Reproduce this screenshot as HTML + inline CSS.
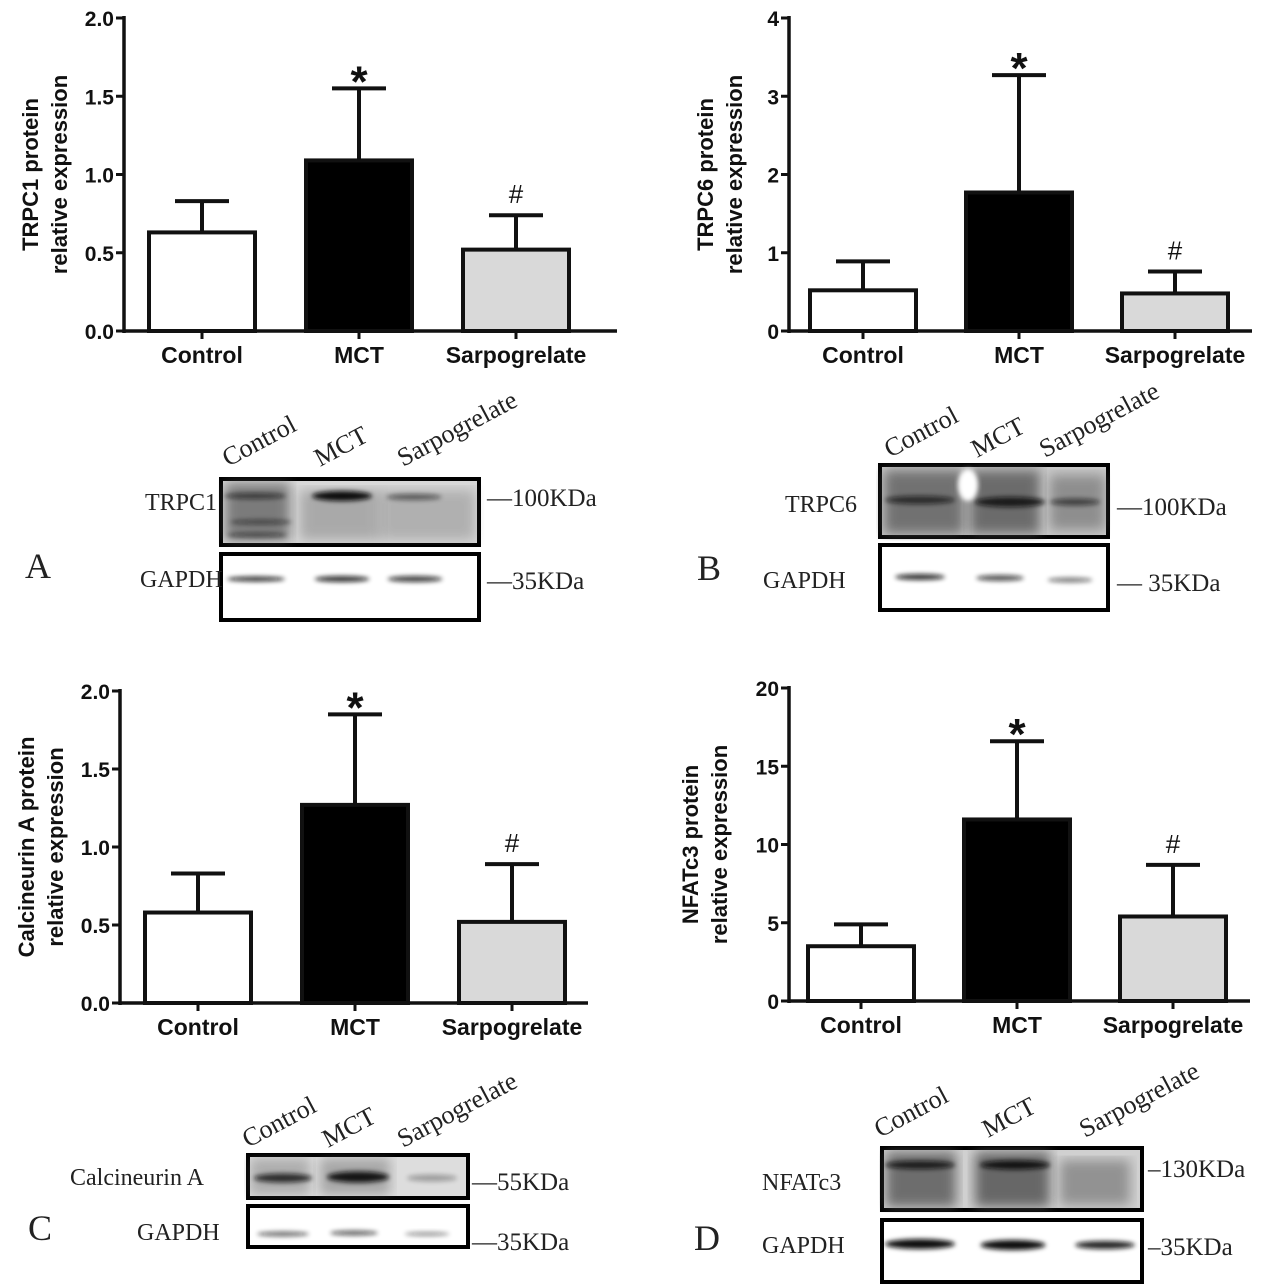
<!DOCTYPE html>
<html><head><meta charset="utf-8"><style>
html,body{margin:0;padding:0;background:#fff;}
svg{display:block;}
.tk{font-family:"Liberation Sans",Arial,sans-serif;font-weight:bold;font-size:21px;fill:#111;}
.cat{font-family:"Liberation Sans",Arial,sans-serif;font-weight:bold;font-size:23px;fill:#111;}
.yt{font-family:"Liberation Sans",Arial,sans-serif;font-weight:bold;font-size:22px;fill:#111;}
.sv{font-family:"Liberation Serif","Times New Roman",serif;fill:#222;}
</style></head><body>
<svg id="fig" width="1278" height="1286" viewBox="0 0 1278 1286" xmlns="http://www.w3.org/2000/svg">
<defs><filter id="bl" x="-20%" y="-100%" width="140%" height="300%"><feGaussianBlur stdDeviation="2.5"/></filter>
<filter id="bl2"><feGaussianBlur stdDeviation="6"/></filter></defs>
<g id="charts"></g>
<g id="blots"></g>
</svg>
<script>
const categories = ["Control","MCT","Sarpogrelate"];
const fills = ["#ffffff","#000000","#d9d9d9"];
const trpc1Values = [0.63, 1.09, 0.52];
const trpc1Errors = [0.20, 0.46, 0.22];
const trpc1Ticks = ["0.0","0.5","1.0","1.5","2.0"];
const trpc6Values = [0.52, 1.77, 0.48];
const trpc6Errors = [0.37, 1.50, 0.28];
const trpc6Ticks = ["0","1","2","3","4"];
const calcValues = [0.58, 1.27, 0.52];
const calcErrors = [0.25, 0.58, 0.37];
const calcTicks = ["0.0","0.5","1.0","1.5","2.0"];
const nfatValues = [3.5, 11.6, 5.4];
const nfatErrors = [1.4, 5.0, 3.3];
const nfatTicks = ["0","5","10","15","20"];
const marks = ["", "*", "#"];

const NS="http://www.w3.org/2000/svg";
function mk(tag, attrs, parent){const e=document.createElementNS(NS,tag);for(const k in attrs)e.setAttribute(k,attrs[k]);parent.appendChild(e);return e;}
const charts=document.getElementById('charts');

function chart(cfg){
  const g=mk('g',{},charts);
  
  
  const max=parseFloat(cfg.ticks[cfg.ticks.length-1]);
  const y=v=>cfg.y0-(v/max)*(cfg.y0-cfg.y1);
  const barX=i=>cfg.bx0+i*cfg.step;
  const ya=mk('line',{x1:cfg.ax,y1:cfg.y1-2,x2:cfg.ax,y2:cfg.y0+2,stroke:'#111','stroke-width':3.5},g);
  
  
  const xa=mk('line',{x1:cfg.ax,y1:cfg.y0,x2:cfg.axEnd,y2:cfg.y0,stroke:'#111','stroke-width':3.5},g);
  
  
  cfg.ticks.forEach(t=>{
    const v=parseFloat(t);
    mk('line',{x1:cfg.ax-8,y1:y(v),x2:cfg.ax,y2:y(v),stroke:'#111','stroke-width':3},g);
    const tx=mk('text',{x:cfg.ax-10,y:y(v)+8,'text-anchor':'end',class:'tk'},g);
    tx.textContent=t;
    
    
  });
  cfg.values.forEach((v,i)=>{
    const x=barX(i), cx=x+cfg.bw/2;
    const top=y(v), et=y(v+cfg.errors[i]);
    const el=mk('line',{x1:cx,y1:top,x2:cx,y2:et,stroke:'#111','stroke-width':4},g);
    
    
    mk('line',{x1:cx-27,y1:et,x2:cx+27,y2:et,stroke:'#111','stroke-width':4},g);
    const r=mk('rect',{x:x,y:top,width:cfg.bw,height:cfg.y0-top,fill:fills[i],stroke:'#111','stroke-width':4},g);
    
    
    mk('line',{x1:cx,y1:cfg.y0,x2:cx,y2:cfg.y0+8,stroke:'#111','stroke-width':3},g);
    const c=mk('text',{x:cx,y:cfg.y0+32,'text-anchor':'middle',class:'cat'},g);
    c.textContent=categories[i];
    
    
    if(marks[i]){
      const star=marks[i]=='*';
      const m=mk('text',{x:cx,y:et-(star?-8:12),'text-anchor':'middle',class:'cat',style:'font-size:'+(star?'44px':'26px')+';font-weight:'+(star?'bold':'normal')},g);
      m.textContent=marks[i];
      
      
    }
  });
  const yt=mk('text',{transform:`translate(${cfg.tx},${(cfg.y0+cfg.y1)/2}) rotate(-90)`,'text-anchor':'middle',class:'yt'},g);
  
  
  const t1=mk('tspan',{x:0,y:0},yt); t1.textContent=cfg.title;
  const t2=mk('tspan',{x:0,y:29},yt); t2.textContent='relative expression';
}
chart({name:'chart-trpc1',values:trpc1Values,errors:trpc1Errors,ticks:trpc1Ticks,ax:124,axEnd:617,y0:331,y1:18,bx0:149,bw:106,step:157,tx:38,title:'TRPC1 protein'});
chart({name:'chart-trpc6',values:trpc6Values,errors:trpc6Errors,ticks:trpc6Ticks,ax:789,axEnd:1252,y0:331,y1:18,bx0:810,bw:106,step:156,tx:713,title:'TRPC6 protein'});
chart({name:'chart-calcineurin',values:calcValues,errors:calcErrors,ticks:calcTicks,ax:120,axEnd:588,y0:1003,y1:691,bx0:145,bw:106,step:157,tx:34,title:'Calcineurin A protein'});
chart({name:'chart-nfatc3',values:nfatValues,errors:nfatErrors,ticks:nfatTicks,ax:789,axEnd:1250,y0:1001,y1:688,bx0:808,bw:106,step:156,tx:698,title:'NFATc3 protein'});

const blots=document.getElementById('blots');
function txt(s,x,y,size,parent,name,extra){const t=mk('text',Object.assign({x:x,y:y,style:'font-size:'+size+'px',class:'sv'},extra||{}),parent);t.textContent=s;return t;}
function box(x,y,w,h,bg,name){const r=mk('rect',{x:x,y:y,width:w,height:h,fill:bg,stroke:'#000','stroke-width':4},blots);}
function band(cx,cy,w,h,op){mk('ellipse',{cx:cx,cy:cy,rx:w/2,ry:h/2,fill:'#111',opacity:op,filter:'url(#bl)'},blots);}
function smear(x,y,w,h,op){mk('rect',{x:x,y:y,width:w,height:h,fill:'#555',opacity:op,filter:'url(#bl2)'},blots);}
function lanes(xs,y,size){['Control','MCT','Sarpogrelate'].forEach((s,i)=>txt(s,xs[i],y,size,blots,'lane-label',{transform:`rotate(-28 ${xs[i]} ${y})`}));}

// A
lanes([228,320,403],467,26);
box(221,479,258,66,'#d8d8d8','blot-trpc1');
smear(225,483,65,58,0.7);smear(300,490,80,50,0.35);smear(380,490,95,50,0.3);
band(255,496,62,6,0.6);band(261,522,62,5,0.5);band(257,535,60,5,0.55);
band(342,496,60,10,1);band(414,497,55,6,0.55);
box(221,554,258,66,'#fff','blot-gapdh-a');
band(256,579,58,5,0.85);band(342,579,55,6,0.85);band(415,579,55,6,0.8);
txt('TRPC1',145,510,24,blots,'protein-label');
txt('GAPDH',140,587,24,blots,'protein-label');
txt('—100KDa',487,506,25,blots,'marker-label');
txt('—35KDa',487,589,25,blots,'marker-label');
txt('A',25,578,36,blots,'panel-label');
// B
lanes([890,977,1045],458,26);
box(880,465,228,72,'#c8c8c8','blot-trpc6');
smear(884,470,80,64,0.75);smear(970,470,70,64,0.8);smear(1050,475,55,55,0.5);
band(920,500,70,8,0.7);band(1010,502,70,10,0.85);band(1075,502,50,7,0.6);
mk('ellipse',{cx:968,cy:485,rx:10,ry:16,fill:'#fff',filter:'url(#bl)'},blots);
box(880,545,228,65,'#fff','blot-gapdh-b');
band(920,577,50,6,0.85);band(1000,578,48,6,0.7);band(1070,580,45,5,0.55);
txt('TRPC6',785,512,24,blots,'protein-label');
txt('GAPDH',763,588,24,blots,'protein-label');
txt('—100KDa',1117,515,25,blots,'marker-label');
txt('— 35KDa',1117,591,25,blots,'marker-label');
txt('B',697,580,36,blots,'panel-label');
// C
lanes([248,328,403],1148,26);
box(248,1155,220,43,'#ddd','blot-calcineurin');
smear(250,1158,60,37,0.35);smear(320,1158,70,37,0.4);
band(283,1178,58,9,0.8);band(358,1177,62,11,0.95);band(432,1178,50,7,0.3);
box(248,1206,220,41,'#fff','blot-gapdh-c');
band(283,1234,52,5,0.6);band(354,1233,48,5,0.65);band(427,1234,45,4,0.45);
txt('Calcineurin A',70,1185,24,blots,'protein-label');
txt('GAPDH',137,1240,24,blots,'protein-label');
txt('—55KDa',472,1190,25,blots,'marker-label');
txt('—35KDa',472,1250,25,blots,'marker-label');
txt('C',28,1240,36,blots,'panel-label');
// D
lanes([880,988,1085],1138,26);
box(882,1148,260,62,'#d0d0d0','blot-nfatc3');
smear(886,1152,70,55,0.8);smear(975,1152,75,55,0.85);smear(1060,1160,70,45,0.5);
band(920,1165,70,8,0.85);band(1015,1165,70,9,0.95);
box(882,1220,260,62,'#fff','blot-gapdh-d');
band(920,1244,70,10,1);band(1013,1245,65,10,1);band(1105,1245,60,8,0.9);
txt('NFATc3',762,1190,24,blots,'protein-label');
txt('GAPDH',762,1253,24,blots,'protein-label');
txt('–130KDa',1148,1177,25,blots,'marker-label');
txt('–35KDa',1148,1255,25,blots,'marker-label');
txt('D',694,1250,36,blots,'panel-label');
</script>
</body></html>
